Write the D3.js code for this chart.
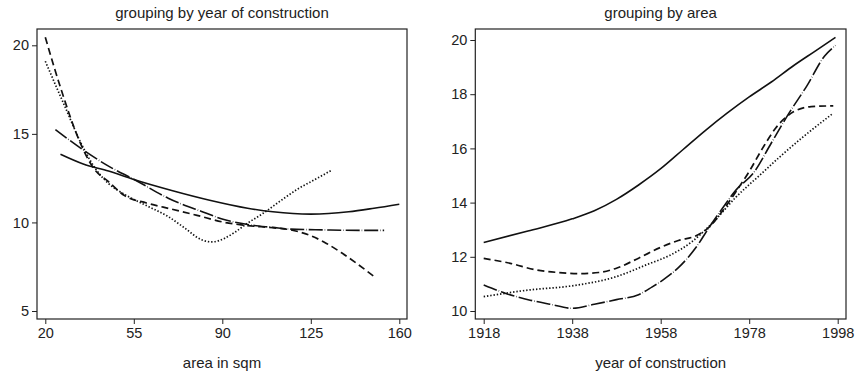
<!DOCTYPE html>
<html>
<head>
<meta charset="utf-8">
<script src="https://cdn.jsdelivr.net/npm/d3@7"></script>
<style>
  body { margin: 0; background: #fff; }
  svg text { font-family: "Liberation Sans", Arial, sans-serif; fill: #222; }
</style>
</head>
<body>
<div id="vis-holder"></div>
<script>
// Left panel: grouping by year of construction, x = area in sqm
const areaTicks = [20, 55, 90, 125, 160];
const leftYTicks = [5, 10, 15, 20];
const leftSolid = [[26,13.85],[35,13.3],[45,12.9],[55,12.42],[70,11.8],[85,11.25],[100,10.8],[110,10.6],[125,10.47],[140,10.6],[150,10.8],[160,11.03]];
const leftDashed = [[20,20.45],[26.5,17.4],[33,14.77],[39,13.08],[45,12.3],[51.5,11.5],[60,11.1],[70,10.75],[80,10.4],[91,10.0],[100,9.82],[110,9.7],[117,9.58],[125,9.25],[131,8.83],[137,8.3],[143,7.7],[150,6.95]];
const leftDotted = [[20,19.1],[28,16.46],[34.4,14.39],[40,13.0],[45,12.2],[51.5,11.57],[60,10.95],[68.6,10.33],[75,9.7],[81.8,9.02],[86,8.9],[91,9.11],[95,9.45],[100,9.96],[106,10.5],[113.5,11.27],[120,11.9],[127,12.45],[133,12.93]];
const leftDashDot = [[24,15.24],[35.7,14.02],[45,13.18],[55.5,12.4],[68.6,11.37],[81.8,10.62],[91,10.15],[100,9.88],[110,9.72],[117,9.62],[130,9.58],[145,9.55],[154,9.55]];

// Right panel: grouping by area, x = year of construction
const yearTicks = [1918, 1938, 1958, 1978, 1998];
const rightYTicks = [10, 12, 14, 16, 18, 20];
const rightSolid = [[1918,12.53],[1928,12.95],[1938,13.4],[1943,13.7],[1948,14.12],[1953,14.65],[1958,15.25],[1963,15.95],[1968,16.65],[1973,17.3],[1978,17.9],[1983,18.45],[1988,19.05],[1993,19.6],[1997.5,20.1]];
const rightDashed = [[1918,11.94],[1924,11.76],[1930,11.51],[1935,11.42],[1940,11.38],[1944,11.42],[1948,11.58],[1953,11.95],[1958,12.35],[1962,12.6],[1966,12.78],[1969,13.1],[1972,13.7],[1975,14.4],[1978,15.15],[1981,16.0],[1984,16.75],[1988,17.35],[1992,17.54],[1997,17.57]];
const rightDashDot = [[1918,10.96],[1923,10.65],[1928.5,10.4],[1933,10.25],[1938,10.1],[1943,10.25],[1948,10.42],[1953,10.6],[1956,10.88],[1959,11.2],[1962,11.6],[1966,12.35],[1969,13.1],[1972,13.8],[1975,14.46],[1979,15.1],[1983,16.2],[1987,17.3],[1991,18.3],[1995,19.4],[1997.5,19.8]];
const rightDotted = [[1918,10.53],[1928,10.77],[1938,10.93],[1948,11.27],[1955,11.72],[1960,12.05],[1965,12.55],[1970,13.3],[1975,14.2],[1981,15.1],[1985,15.7],[1990,16.4],[1997,17.3]];

const width = 856, height = 373;

const svg = d3.select("#vis-holder")
  .append("svg")
  .attr("width", width)
  .attr("height", height);

// line styles
const styles = {
  solid:   { dash: null,         w: 1.6 },
  dashed:  { dash: "7,4",        w: 1.7 },
  dashdot: { dash: "14,2,0.5,2", w: 1.6 },
  dotted:  { dash: "1.4,1.9",    w: 1.7 }
};

function drawPanel(cfg) {
  const g = svg.append("g");
  const x = d3.scaleLinear().domain(cfg.xDomain).range(cfg.xRange);
  const y = d3.scaleLinear().domain(cfg.yDomain).range(cfg.yRange);

  // frame
  g.append("rect")
    .attr("x", cfg.box[0]).attr("y", cfg.box[1])
    .attr("width", cfg.box[2] - cfg.box[0])
    .attr("height", cfg.box[3] - cfg.box[1])
    .attr("fill", "none")
    .attr("stroke", "#222")
    .attr("stroke-width", 1.2);

  // x axis
  g.append("g")
    .attr("transform", `translate(0,${cfg.box[3]})`)
    .call(d3.axisBottom(x).tickValues(cfg.xTicks).tickSize(5).tickPadding(4).tickFormat(d3.format("d")))
    .call(a => a.select(".domain").remove())
    .call(a => a.selectAll("line").attr("stroke", "#222"))
    .call(a => a.selectAll("text").attr("font-size", "14.5px"));

  // y axis
  g.append("g")
    .attr("transform", `translate(${cfg.box[0]},0)`)
    .call(d3.axisLeft(y).tickValues(cfg.yTicks).tickSize(5).tickPadding(3).tickFormat(d3.format("d")))
    .call(a => a.select(".domain").remove())
    .call(a => a.selectAll("line").attr("stroke", "#222"))
    .call(a => a.selectAll("text").attr("font-size", "14.5px"));

  // title
  g.append("text")
    .attr("x", (cfg.box[0] + cfg.box[2]) / 2)
    .attr("y", 13)
    .attr("dy", "0.35em")
    .attr("text-anchor", "middle")
    .attr("font-size", "15px")
    .text(cfg.title);

  // x label
  g.append("text")
    .attr("x", (cfg.box[0] + cfg.box[2]) / 2)
    .attr("y", 363)
    .attr("dy", "0.35em")
    .attr("text-anchor", "middle")
    .attr("font-size", "15px")
    .text(cfg.xLabel);

  const line = d3.line()
    .x(d => x(d[0]))
    .y(d => y(d[1]))
    .curve(d3.curveMonotoneX);

  cfg.series.forEach(s => {
    const st = styles[s.style];
    g.append("path")
      .datum(s.data)
      .attr("fill", "none")
      .attr("stroke", "#111")
      .attr("stroke-width", st.w)
      .attr("stroke-dasharray", st.dash)
      .attr("d", line);
  });
}

drawPanel({
  title: "grouping by year of construction",
  xLabel: "area in sqm",
  box: [37, 29, 407, 319],
  xDomain: [20, 160], xRange: [45.3, 399.3],
  yDomain: [5, 20], yRange: [311, 45.3],
  xTicks: areaTicks, yTicks: leftYTicks,
  series: [
    { data: leftSolid, style: "solid" },
    { data: leftDashed, style: "dashed" },
    { data: leftDashDot, style: "dashdot" },
    { data: leftDotted, style: "dotted" }
  ]
});

drawPanel({
  title: "grouping by area",
  xLabel: "year of construction",
  box: [475.3, 29, 846, 319],
  xDomain: [1918, 1998], xRange: [483.7, 837.7],
  yDomain: [10, 20], yRange: [311, 40],
  xTicks: yearTicks, yTicks: rightYTicks,
  series: [
    { data: rightSolid, style: "solid" },
    { data: rightDashed, style: "dashed" },
    { data: rightDashDot, style: "dashdot" },
    { data: rightDotted, style: "dotted" }
  ]
});
</script>
</body>
</html>
